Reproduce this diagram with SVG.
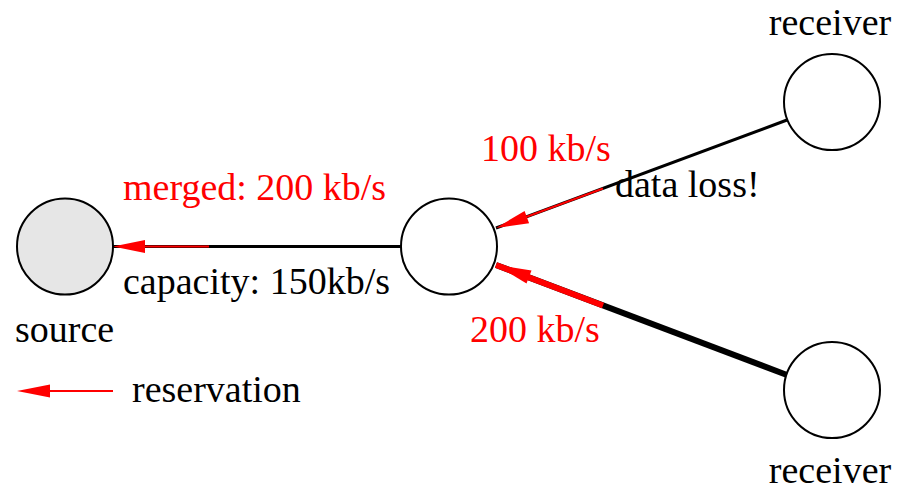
<svg xmlns="http://www.w3.org/2000/svg" width="898" height="490" viewBox="0 0 898 490">
<style>
.node{fill:#fff;stroke:#000;stroke-width:2}
.src{fill:#e6e6e6}
.t{font-family:"Liberation Serif","Times New Roman",serif;font-size:38px;fill:#000}
.r{fill:#ff0000}
.lk{stroke:#000;fill:none}
.rv{stroke:#ff0000;fill:none}
.ah{fill:#ff0000}
</style>
<rect width="898" height="490" fill="#fff"/>
<g id="connectors">
<line class="lk" x1="113" y1="246.5" x2="401" y2="246.5" stroke-width="3"/>
<line class="rv" x1="140" y1="246.5" x2="209" y2="246.5" stroke-width="2"/>
<polygon class="ah" points="113,246.5 145,240 145,253"/>
<line class="lk" x1="787" y1="120" x2="496" y2="228" stroke-width="3"/>
<line class="rv" x1="603" y1="188.5" x2="522" y2="218.5" stroke-width="2"/>
<polygon class="ah" points="496,228 524.6,211 529.1,223.2"/>
<line class="lk" x1="787" y1="375" x2="496" y2="265" stroke-width="6"/>
<line class="rv" x1="603" y1="305.5" x2="496" y2="265" stroke-width="6"/>
<polygon class="ah" points="496,265 531.5,270.5 526.5,283.5"/>
<line class="rv" x1="45" y1="391" x2="113" y2="391" stroke-width="2"/>
<polygon class="ah" points="17,391 50,384.5 50,397.5"/>
</g>
<g id="source"><circle class="node src" cx="65" cy="246.5" r="48"/></g>
<g id="router"><circle class="node" cx="449" cy="246.5" r="48"/></g>
<g id="receiver1"><circle class="node" cx="832" cy="102" r="48"/></g>
<g id="receiver2"><circle class="node" cx="832" cy="390" r="48"/></g>
<g id="labels">
<text class="t" x="830" y="35" text-anchor="middle">receiver</text>
<text class="t" x="830" y="483" text-anchor="middle">receiver</text>
<text class="t" x="15" y="342">source</text>
<text class="t r" x="123" y="200">merged: 200 kb/s</text>
<text class="t" x="123" y="294">capacity: 150kb/s</text>
<text class="t r" x="481" y="161">100 kb/s</text>
<text class="t" x="615" y="197">data loss!</text>
<text class="t r" x="470" y="342">200 kb/s</text>
<text class="t" x="132" y="402">reservation</text>
</g>
</svg>
